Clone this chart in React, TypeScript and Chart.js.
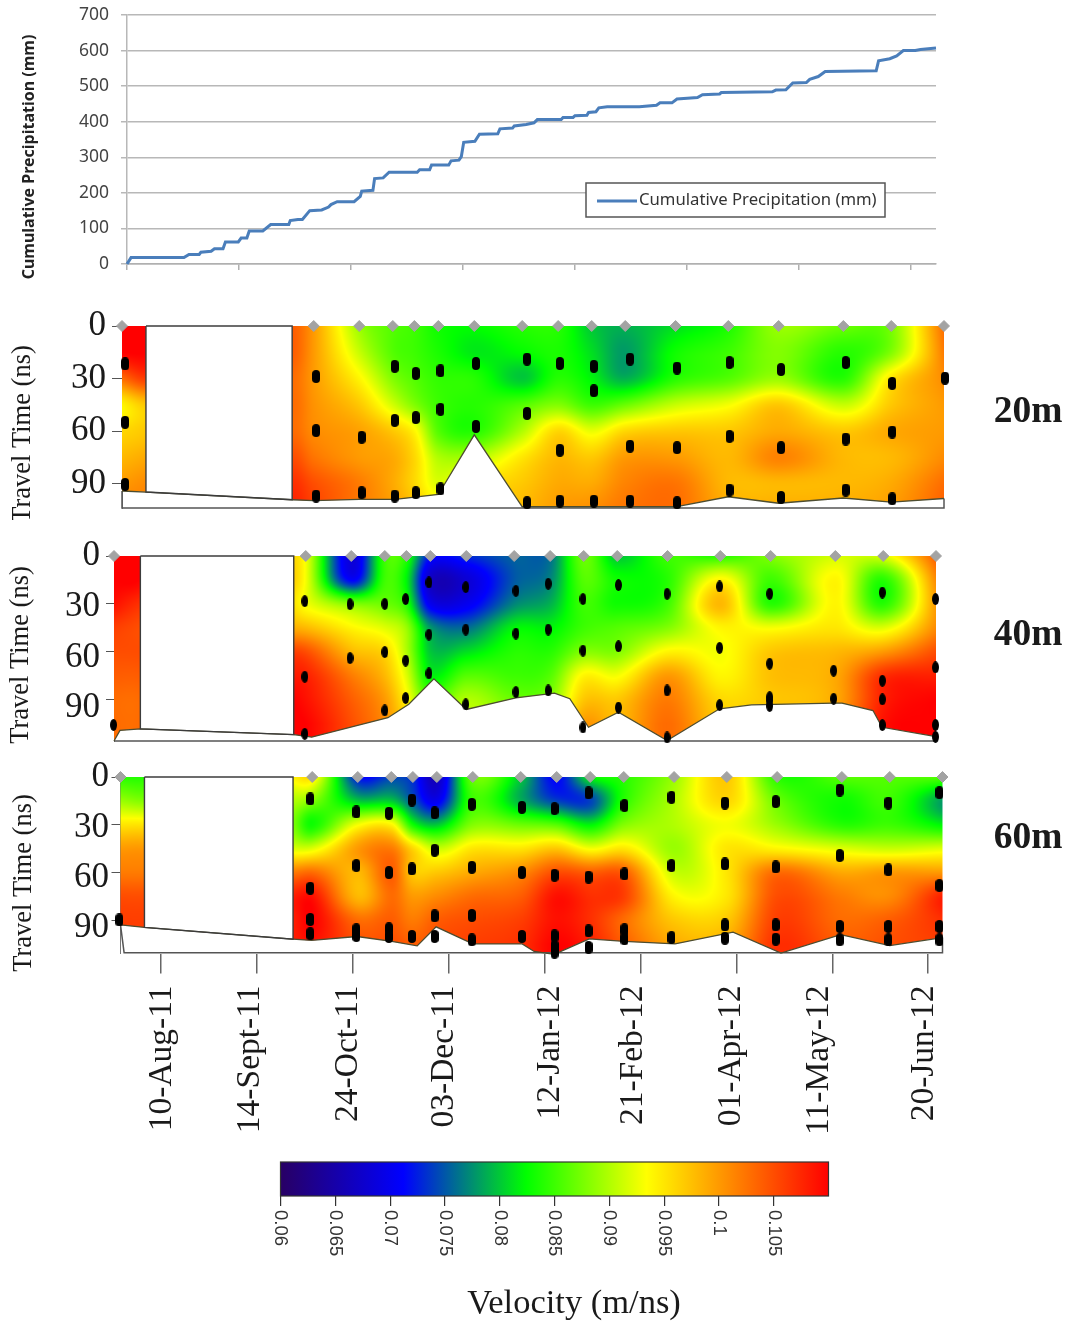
import React, { useEffect, useRef } from "react";
import { Chart, registerables } from "chart.js";

Chart.register(...registerables);

// ---------- data ----------
const precipDays = [0, 1.7, 23.9, 26, 30.3, 31, 35.3, 36.7, 40.3, 41.3, 46.7, 47.9, 50.3, 51.3, 57, 60.3, 67.9, 68.5, 71.7, 73.6, 76.7, 81.7, 84.6, 85.6, 88.2, 95.3, 97.9, 98.5, 103.2, 103.9, 107.5, 110, 121.8, 122.8, 127, 127.8, 135, 136, 139.3, 140.3, 141.3, 146, 147.9, 155.6, 156.5, 161.8, 162.5, 167.5, 170.8, 172.2, 182.2, 183, 187.2, 188, 193, 193.7, 196.8, 198, 201.5, 215, 222.2, 223.7, 228.7, 230.8, 235.1, 239.4, 241.5, 248.7, 249.4, 270.8, 272.3, 276.5, 279.4, 285.1, 286.5, 290.1, 293, 314.4, 315.4, 320.1, 323, 325.8, 330.8, 333, 339.5];
const precipMm = [0, 18, 18, 27, 27, 33, 36, 43, 43, 62, 62, 73, 73, 93, 93, 111, 111, 122, 125, 125, 150, 152, 160, 167, 175, 175, 190, 205, 207, 240, 242, 258, 258, 265, 265, 278, 278, 290, 292, 302, 342, 345, 365, 366, 380, 382, 388, 392, 397, 406, 406, 412, 412, 417, 418, 426, 428, 439, 442, 442, 446, 453, 453, 464, 466, 468, 476, 478, 482, 484, 489, 490, 509, 510, 519, 527, 541, 543, 571, 577, 585, 600, 600, 603, 607];

const dateLabels = ["10-Aug-11", "14-Sept-11", "24-Oct-11", "03-Dec-11", "12-Jan-12", "21-Feb-12", "01-Apr-12", "11-May-12", "20-Jun-12"];
const dateLabelDays = [0.5, 37, 78, 118, 162.5, 197, 238, 274.5, 318.5];
const surveyDays = [-17, 63, 82, 96, 105, 115, 130, 150, 165, 179, 193, 214, 236, 257, 284, 304, 326];

const gridDays = [-17, -7, 54, 63, 82, 96, 105, 115, 130, 150, 165, 179, 193, 214, 236, 257, 284, 304, 326];
const gridDepths = [0, 15, 30, 45, 60, 75, 90, 105];

// velocity x 1000 (m/ns); one row per depth, one column per grid day
const velocity20m = [
  [110, 110, 104, 100, 89, 86, 85, 83, 82.5, 84, 84, 80, 79, 81, 83.5, 89, 87, 87.5, 103],
  [110, 110, 104, 100, 91, 86, 85, 83.5, 81.5, 82.5, 83.5, 81, 78, 83, 85, 88, 84, 88, 102],
  [103, 106, 103, 100, 94, 88, 86, 84.5, 84, 80, 84, 82, 79, 84, 86, 89, 84, 95, 101],
  [94, 97, 103, 100.5, 97, 91.5, 88, 85, 84, 86, 88, 85, 87, 91, 93, 97, 91, 97, 100],
  [96, 97, 103, 101, 99.5, 97, 94, 86, 84, 90, 96, 92.5, 96, 97, 97, 99, 97, 99, 100],
  [98, 99, 105, 102.5, 100, 99, 96, 90, 90, 95, 98, 97, 100, 100, 98, 101.5, 98, 98, 101],
  [100, 101, 107, 105, 102, 99, 96, 92, 95, 97, 99, 99, 101.5, 102.5, 98, 98, 98, 99, 103],
  [102, 102, 108, 106, 102, 100, 98, 95, 96, 98, 100, 101, 102.5, 103, 99, 99, 99, 100, 104],
];
const velocity40m = [
  [110, 110, 97, 93, 68, 85, 84, 72, 73, 75.5, 76, 87, 80, 85, 84, 88, 91.5, 92, 104],
  [110, 110, 98, 93, 71, 85, 82, 67, 68, 75, 77, 86, 83, 84, 94, 85, 94, 84, 101],
  [109, 107, 97, 93, 88, 87, 84, 70, 70, 77, 79, 85, 83, 85, 98, 84, 94, 84, 100],
  [106, 105, 99, 98, 94, 92, 89, 78, 76, 82, 82, 85, 86, 88, 94, 93, 95, 92, 101],
  [105, 105, 106, 105, 98, 96, 90, 80, 81, 84, 84, 88, 88, 94, 93, 97, 98, 100, 105],
  [104, 104, 108, 108, 102, 98, 92, 82, 86, 85, 86, 94, 93, 100, 94, 97.5, 99, 107, 108],
  [103, 103, 110, 109, 104, 100, 94, 86, 90, 87, 88, 97, 97, 102, 96, 97, 99, 108, 110],
  [103, 103, 110, 110, 105, 101, 96, 90, 91, 89, 90, 100, 98, 103, 97, 98, 100, 109, 110],
];
const velocity60m = [
  [84, 84, 94, 95, 72, 74, 73, 66, 87, 80, 71, 82, 84, 89, 97, 84, 86, 86, 86],
  [89, 88, 90, 88, 80, 80, 75, 70, 85, 79, 74, 74, 84, 90, 96, 87, 83, 85, 78],
  [95, 95, 88, 83, 93, 94, 83, 80, 88, 87, 86, 82, 88, 90, 93, 89, 84, 85, 82],
  [100, 100, 92, 92, 100, 102, 96, 91, 95, 95, 97, 93, 95, 89, 95, 94, 92, 91, 92],
  [102, 102, 102, 103, 98, 104, 97, 97, 99, 101, 105, 104, 104, 91, 95, 103, 99, 100, 100],
  [105, 105, 108, 109, 98, 103, 100, 101, 103, 104, 109, 107, 106, 94, 95, 105, 102, 101, 108],
  [106, 106, 108, 110, 103, 104, 102, 104, 105, 106, 109, 107, 103, 97, 97, 106, 103, 104, 107],
  [106, 106, 108, 109, 105, 105, 104, 105, 106, 107, 110, 108, 104, 99, 99, 107, 104, 105, 106],
];

// bedrock (lower limit of the imaged section): [day, ns]
const bedrock20m = [[-17, 94], [-7, 94.6], [54, 99], [63, 99.5], [82, 98.8], [97, 98.8], [115, 96], [130, 62], [150, 103], [214, 103], [236, 97.3], [257, 101], [284, 98], [304, 100.4], [326, 98.3]];
const bedrock40m = [[-17, 116], [-14.5, 109.4], [-6, 108.4], [58, 112], [65.5, 113.6], [97.3, 101.4], [106, 93], [116.5, 77], [130, 96.2], [150.7, 89], [166.8, 86], [173.2, 89.5], [181, 107.4], [193.5, 98], [213.8, 115.7], [235.7, 95.8], [249, 93.3], [283.3, 92.3], [286.8, 92.3], [299.7, 96.9], [303.5, 107.4], [326, 113.2]];
const bedrock60m = [[-17, 93], [-7, 94.6], [55, 102], [62.7, 102.8], [81.7, 100.3], [96.2, 103.4], [106.8, 106.2], [114.7, 94.2], [130, 105], [150.6, 105], [155.6, 109.7], [164, 111.5], [178.6, 101.8], [193.2, 103.4], [214.4, 105], [238.6, 97.6], [258.6, 110.7], [283.5, 99.2], [304, 106], [326, 101]];

const gap20m = [[-7, 0], [54, 0], [54, 99], [-7, 94.6], [-7, 0]];
const gap40m = [[-6, 0], [58, 0], [58, 112], [-6, 108.4], [-6, 0]];
const gap60m = [[-7, 0], [55, 0], [55, 102], [-7, 94.6], [-7, 0]];

const base20m = [[-17, 94], [-17, 103.7], [326, 103.7], [326, 98.3]];
const base40m = [[-17, 116], [326, 116], [326, 113.2]];
const base60m = [[-17, 93], [-15.5, 110.5], [326, 110.5], [326, 101]];

// pick positions: first value = day, the others = travel time in ns
const picks20m = [
  [-15.7, 21.6, 54.9, 90.3], [64, 28.8, 59.6, 96.9], [83, 63.4, 95], [96.8, 23, 53.8, 96.9], [105.6, 27, 52.2, 95],
  [115.9, 25.5, 47.5, 92.8], [130.7, 21.4, 57.2], [152, 18.9, 49.8, 100.7], [165.7, 21.4, 70.8, 99.8], [179.9, 23, 36.9, 99.8],
  [195, 18.9, 68.5, 99.8], [214.6, 24, 69.3, 100.7], [236.5, 20.8, 62.9, 93.5], [258, 24.8, 69.3, 97.7], [285, 20.8, 64.4, 93.5],
  [304.4, 32.7, 60.4, 98.5], [326.4, 29.7, 63.4, 95.2],
];
const picks40m = [
  [-17.2, 25.6, 65.8, 105.9], [62.6, 28.3, 75.7, 111.5], [81.5, 30.2, 64], [96, 30, 60.2, 96.8], [104.7, 27, 65.6, 89],
  [114.4, 16.6, 49.3, 73.6], [129.8, 19.5, 46.1, 93], [150.7, 21.8, 48.6, 85.3], [164.2, 17.4, 46.1, 84.3], [178.7, 27, 59.3, 107.5],
  [193.5, 18.2, 56.6, 95], [213.8, 23.7, 84.3, 113.8], [235.7, 19.1, 57.6, 93.5], [256.6, 23.7, 67.5, 88.5, 90.5, 94], [283.3, 71.9, 89.5],
  [303.6, 22.9, 78.2, 89.9, 106], [325.8, 27, 69.8, 105.9, 113.4],
];
const picks60m = [
  [-17.5, 17.6, 77.9, 89.9], [62.2, 13.8, 70, 89.6, 98.6], [81.4, 22, 55.7, 96.1, 99.7], [95, 22.8, 60.1, 95.5, 100.3], [104.6, 14.5, 57.8, 100.3],
  [114.1, 22.6, 46.1, 87.3, 100.3], [129.6, 17.2, 56.8, 87.1, 102.4], [150.5, 19.1, 60.1, 100.3], [164.1, 19.9, 61.8, 99.9, 106.6, 110.2], [178.3, 10, 63, 96.8, 107.2],
  [193.3, 18, 61, 96.1, 101.8], [212.9, 12.8, 55.7, 101], [235.2, 16.4, 54.7, 93, 101.4], [256.4, 15.5, 56.6, 93, 102], [283.1, 8.2, 49.4, 94, 102.4],
  [303.4, 16.4, 58.4, 94, 102.4], [324.7, 9.9, 68.3, 94, 102.4],
];

const colourValues = [60, 71.2, 82.4, 93.4, 110];
const colourRgb = [[40, 0, 100], [0, 0, 255], [0, 255, 0], [255, 255, 0], [255, 0, 0]];

// ---------- helpers ----------
const SERIF = "'Liberation Serif', serif";
const SANS = "'Noto Sans', sans-serif";

function hermite(xs: number[], ys: number[], x: number): number {
  const n = xs.length;
  if (x <= xs[0]) return ys[0];
  if (x >= xs[n - 1]) return ys[n - 1];
  let i = 0;
  while (i < n - 2 && x > xs[i + 1]) i++;
  const h = xs[i + 1] - xs[i];
  const t = (x - xs[i]) / h;
  const m0 = i > 0 ? (ys[i + 1] - ys[i - 1]) / (xs[i + 1] - xs[i - 1]) : (ys[i + 1] - ys[i]) / h;
  const m1 = i < n - 2 ? (ys[i + 2] - ys[i]) / (xs[i + 2] - xs[i]) : (ys[i + 1] - ys[i]) / h;
  const t2 = t * t, t3 = t2 * t;
  const r = (2 * t3 - 3 * t2 + 1) * ys[i] + (t3 - 2 * t2 + t) * h * m0 + (-2 * t3 + 3 * t2) * ys[i + 1] + (t3 - t2) * h * m1;
  const lo = Math.min(ys[i], ys[i + 1]) - 1.5, hi = Math.max(ys[i], ys[i + 1]) + 1.5;
  return Math.max(lo, Math.min(hi, r));
}

function rgbFor(v: number): number[] {
  if (v <= colourValues[0]) return colourRgb[0];
  for (let i = 0; i < colourValues.length - 1; i++) {
    if (v <= colourValues[i + 1]) {
      const t = (v - colourValues[i]) / (colourValues[i + 1] - colourValues[i]);
      return colourRgb[i].map((c, k) => c + (colourRgb[i + 1][k] - c) * t);
    }
  }
  return colourRgb[colourRgb.length - 1];
}

function capsule(w: number, h: number): HTMLCanvasElement {
  const c = document.createElement("canvas");
  c.width = w; c.height = h;
  const g = c.getContext("2d")!;
  g.fillStyle = "#000";
  g.beginPath();
  g.roundRect(0, 0, w, h, w / 2);
  g.fill();
  return c;
}

function ellipseMark(w: number, h: number): HTMLCanvasElement {
  const c = document.createElement("canvas");
  c.width = w; c.height = h;
  const g = c.getContext("2d")!;
  g.fillStyle = "#000";
  g.beginPath();
  g.ellipse(w / 2, h / 2, w / 2, h / 2, 0, 0, Math.PI * 2);
  g.fill();
  return c;
}

type Note = { text: string; x: number; y: number; font: string; color?: string; rot?: number; align?: CanvasTextAlign };

function notesPlugin(notes: Note[], top: number) {
  return {
    id: "notes",
    afterDraw(chart: any) {
      const { ctx } = chart;
      for (const n of notes) {
        ctx.save();
        ctx.translate(n.x, n.y - top);
        ctx.rotate(n.rot || 0);
        ctx.font = n.font;
        ctx.fillStyle = n.color || "#1a1a1a";
        ctx.textAlign = n.align || "center";
        ctx.textBaseline = "middle";
        ctx.fillText(n.text, 0, 0);
        ctx.restore();
      }
    },
  };
}

function fieldPlugin(grid: number[][], bedrock: number[][], gap: number[][]) {
  return {
    id: "field",
    beforeDatasetsDraw(chart: any) {
      const { ctx, chartArea, scales } = chart;
      const { x, y } = scales;
      const left = Math.floor(chartArea.left), top = Math.floor(chartArea.top);
      const w = Math.ceil(chartArea.right) - left + 1, h = Math.ceil(chartArea.bottom) - top + 1;
      const off = document.createElement("canvas");
      off.width = w; off.height = h;
      const g = off.getContext("2d")!;
      const img = g.createImageData(w, h);
      for (let i = 0; i < w; i++) {
        const day = x.getValueForPixel(left + i + 0.5);
        const col = gridDepths.map((_, r) => hermite(gridDays, grid[r], day));
        for (let j = 0; j < h; j++) {
          const ns = y.getValueForPixel(top + j + 0.5);
          const c = rgbFor(hermite(gridDepths, col, ns));
          const o = (j * w + i) * 4;
          img.data[o] = c[0]; img.data[o + 1] = c[1]; img.data[o + 2] = c[2]; img.data[o + 3] = 255;
        }
      }
      g.putImageData(img, 0, 0);
      ctx.save();
      ctx.beginPath();
      ctx.moveTo(x.getPixelForValue(x.min), y.getPixelForValue(0));
      ctx.lineTo(x.getPixelForValue(x.max), y.getPixelForValue(0));
      for (let k = bedrock.length - 1; k >= 0; k--) ctx.lineTo(x.getPixelForValue(bedrock[k][0]), y.getPixelForValue(bedrock[k][1]));
      ctx.closePath();
      ctx.clip();
      ctx.drawImage(off, left, top);
      ctx.restore();
      ctx.save();
      ctx.fillStyle = "#fff";
      ctx.beginPath();
      gap.forEach((p, k) => {
        const px = x.getPixelForValue(p[0]), py = y.getPixelForValue(p[1]);
        if (k) ctx.lineTo(px, py); else ctx.moveTo(px, py);
      });
      ctx.closePath();
      ctx.fill();
      ctx.restore();
    },
  };
}

type PanelCfg = {
  top: number; height: number; plotTop: number; plotBottom: number; left: number; right: number; nsMax: number; labelMax: number;
  grid: number[][]; bedrock: number[][]; gap: number[][]; base: number[][]; picks: number[][];
  mark: HTMLCanvasElement; tickLength: number; tickPad: number; fontSize: number; showDates: boolean; notes: Note[];
};

const asPoints = (list: number[][]) => list.map((p) => ({ x: p[0], y: p[1] }));

const noScalePadding = (s: any) => { s.paddingTop = 0; s.paddingBottom = 0; s.paddingLeft = 0; s.paddingRight = 0; };

function makePanel(canvas: HTMLCanvasElement, p: PanelCfg): Chart {
  const pickPoints = p.picks.flatMap((r) => r.slice(1).map((ns) => ({ x: r[0], y: ns })));
  const plotH = p.plotBottom - p.top;
  const axisBelow = p.height - plotH;
  const tickBand = 20;
  const dateAxis = p.showDates ? {
    x2: {
      type: "linear", min: -17, max: 326, position: "bottom", weight: 2,
      border: { display: false },
      grid: { display: false, drawTicks: false },
      ticks: {
        autoSkip: false, minRotation: 90, maxRotation: 90, padding: 12,
        color: "#1a1a1a", font: { family: SERIF, size: 33.5 },
        callback: (_v: any, i: number) => dateLabels[i] ?? "",
      },
      afterBuildTicks: (s: any) => { s.ticks = dateLabelDays.map((value) => ({ value })); },
      afterFit: (s: any) => { noScalePadding(s); s.height = axisBelow - tickBand; },
    },
  } : {};
  return new Chart(canvas, {
    type: "scatter",
    data: {
      datasets: [
        { label: "Picks", data: pickPoints, pointStyle: p.mark as any, pointRadius: 5, clip: false as any, order: 0 },
        { label: "Surveys", data: surveyDays.map((d) => ({ x: d, y: 0 })), pointStyle: "rectRot", pointRadius: 5.5, backgroundColor: "#a3a3a3", borderColor: "#a3a3a3", clip: false as any, order: 1 },
        { label: "No data", data: asPoints(p.gap), showLine: true, pointRadius: 0, borderColor: "#3c3c3c", borderWidth: 1.4, clip: false as any, order: 2 },
        { label: "Bedrock", data: asPoints(p.bedrock), showLine: true, pointRadius: 0, borderColor: "#4d4d30", borderWidth: 1.3, clip: false as any, order: 3 },
        { label: "Base", data: asPoints(p.base), showLine: true, pointRadius: 0, borderColor: "#555", borderWidth: 1.5, clip: false as any, order: 4 },
      ],
    },
    options: {
      responsive: false,
      animation: false,
      events: [],
      layout: { padding: { top: p.plotTop - p.top, left: 0, right: 1068 - p.right, bottom: p.showDates ? 0 : axisBelow } },
      plugins: { legend: { display: false }, tooltip: { enabled: false } },
      scales: {
        x: {
          type: "linear", min: -17, max: 326, display: p.showDates, weight: 1,
          border: { display: false },
          grid: { drawOnChartArea: false, drawTicks: true, tickLength: tickBand, color: "#666", lineWidth: 1.5 },
          ticks: { display: false, stepSize: 40, includeBounds: false },
          afterFit: (s: any) => { noScalePadding(s); if (p.showDates) s.height = tickBand; },
        },
        ...dateAxis,
        y: {
          type: "linear", reverse: true, min: 0, max: p.nsMax, position: "left", weight: 1,
          border: { display: true, color: "#777", width: 1 },
          grid: { drawOnChartArea: false, drawTicks: true, tickLength: p.tickLength, color: "#555" },
          ticks: { display: false, stepSize: 30, includeBounds: false },
          afterFit: (s: any) => { noScalePadding(s); s.width = p.tickLength; },
        },
        y2: {
          type: "linear", reverse: true, min: 0, max: p.labelMax, position: "left", weight: 2,
          border: { display: false },
          grid: { display: false, drawTicks: false },
          ticks: { stepSize: 30, includeBounds: false, padding: p.tickPad, color: "#1a1a1a", font: { family: SERIF, size: p.fontSize } },
          afterFit: (s: any) => { noScalePadding(s); s.width = p.left - p.tickLength; },
        },
      },
    } as any,
    plugins: [fieldPlugin(p.grid, p.bedrock, p.gap), notesPlugin(p.notes, p.top)],
  });
}

function makePrecip(canvas: HTMLCanvasElement): Chart {
  const legendPlugin = {
    id: "boxLegend",
    afterDraw(chart: any) {
      const { ctx } = chart;
      ctx.save();
      ctx.fillStyle = "#fff";
      ctx.strokeStyle = "#555";
      ctx.lineWidth = 1.5;
      ctx.fillRect(586, 183, 299, 34);
      ctx.strokeRect(586, 183, 299, 34);
      ctx.strokeStyle = "#4a7ebb";
      ctx.lineWidth = 3;
      ctx.beginPath();
      ctx.moveTo(597, 201);
      ctx.lineTo(637, 201);
      ctx.stroke();
      ctx.fillStyle = "#333";
      ctx.font = `16.7px ${SANS}`;
      ctx.textBaseline = "middle";
      ctx.fillText(chart.data.datasets[0].label, 639, 200.5);
      ctx.restore();
    },
  };
  return new Chart(canvas, {
    type: "line",
    data: {
      datasets: [{
        label: "Cumulative Precipitation (mm)",
        data: precipDays.map((d, i) => ({ x: d, y: precipMm[i] })),
        borderColor: "#4a7ebb", borderWidth: 3, pointRadius: 0, clip: false as any, tension: 0,
      }],
    },
    options: {
      responsive: false,
      animation: false,
      events: [],
      layout: { padding: { top: 15, left: 0, right: 1068 - 936, bottom: 0 } },
      plugins: { legend: { display: false }, tooltip: { enabled: false } },
      scales: {
        x: {
          type: "linear", min: 0, max: 339.5,
          border: { color: "#b0b0b0", width: 1.5 },
          grid: { drawOnChartArea: false, drawTicks: true, tickLength: 6, color: "#b0b0b0", lineWidth: 1.5 },
          ticks: { display: false, stepSize: 47, includeBounds: false },
          afterFit: (s: any) => { noScalePadding(s); s.height = 290 - 264; },
        },
        y: {
          type: "linear", min: 0, max: 700,
          border: { color: "#b8b8b8", width: 1.5 },
          grid: { color: "#b8b8b8", lineWidth: 1.5, tickLength: 6 },
          ticks: { stepSize: 100, padding: 12, color: "#444", font: { family: SANS, size: 17.5 } },
          afterFit: (s: any) => { noScalePadding(s); s.width = 127; },
        },
      },
    } as any,
    plugins: [
      legendPlugin,
      notesPlugin([{ text: "Cumulative Precipitation (mm)", x: 29, y: 157, font: `bold 16px ${SANS}`, rot: -Math.PI / 2, color: "#222" }], 0),
    ],
  });
}

function makeColourBar(canvas: HTMLCanvasElement): Chart {
  const barTop = 1140;
  const barPlugin = {
    id: "colourBar",
    beforeDatasetsDraw(chart: any) {
      const { ctx, chartArea, scales } = chart;
      const grad = ctx.createLinearGradient(chartArea.left, 0, chartArea.right, 0);
      const x0 = scales.x.getPixelForValue(colourValues[0] / 1000);
      const x1 = scales.x.getPixelForValue(colourValues[colourValues.length - 1] / 1000);
      colourValues.forEach((v, i) => {
        const c = colourRgb[i];
        grad.addColorStop((scales.x.getPixelForValue(v / 1000) - x0) / (x1 - x0), `rgb(${c[0]},${c[1]},${c[2]})`);
      });
      ctx.save();
      ctx.fillStyle = grad;
      ctx.fillRect(chartArea.left, chartArea.top, chartArea.width, chartArea.height);
      ctx.strokeStyle = "#333";
      ctx.lineWidth = 1.2;
      ctx.strokeRect(chartArea.left, chartArea.top, chartArea.width, chartArea.height);
      ctx.restore();
    },
    afterDraw(chart: any) {
      const { ctx, scales, chartArea } = chart;
      ctx.save();
      ctx.font = `18.5px 'Liberation Sans', sans-serif`;
      ctx.fillStyle = "#333";
      ctx.textAlign = "left";
      ctx.textBaseline = "middle";
      scales.x.ticks.forEach((t: any) => {
        ctx.save();
        ctx.translate(scales.x.getPixelForValue(t.value), chartArea.bottom + 14);
        ctx.rotate(Math.PI / 2);
        ctx.fillText(String(Number(t.value.toFixed(3))), 0, 0);
        ctx.restore();
      });
      ctx.restore();
    },
  };
  return new Chart(canvas, {
    type: "scatter",
    data: { datasets: [{ label: "Velocity (m/ns)", data: colourValues.map((v) => ({ x: v / 1000, y: 0.5 })), pointRadius: 0 }] },
    options: {
      responsive: false,
      animation: false,
      events: [],
      layout: { padding: { top: 1162 - barTop, left: 280.5, right: 1068 - 828.5, bottom: 0 } },
      plugins: { legend: { display: false }, tooltip: { enabled: false } },
      scales: {
        x: {
          type: "linear", min: 0.06, max: 0.11,
          border: { display: false },
          grid: { drawOnChartArea: false, drawTicks: true, tickLength: 10, color: "#333", lineWidth: 1.2 },
          ticks: { display: false, stepSize: 0.005, includeBounds: false },
          afterBuildTicks: (s: any) => { s.ticks = s.ticks.filter((t: any) => t.value < 0.108); },
          afterFit: (s: any) => { s.height = 185 - 56; },
        },
        y: { type: "linear", display: false, min: 0, max: 1 },
      },
    } as any,
    plugins: [barPlugin, notesPlugin([{ text: "Velocity (m/ns)", x: 574, y: 1304, font: `34.5px ${SERIF}` }], barTop)],
  });
}

const rot = -Math.PI / 2;
const yTitle = "Travel Time (ns)";

export default function App() {
  const refs = [useRef<HTMLCanvasElement>(null), useRef<HTMLCanvasElement>(null), useRef<HTMLCanvasElement>(null), useRef<HTMLCanvasElement>(null), useRef<HTMLCanvasElement>(null)];
  useEffect(() => {
    const charts = [
      makePrecip(refs[0].current!),
      makePanel(refs[1].current!, {
        top: 300, height: 220, plotTop: 326, plotBottom: 508, left: 122, right: 944, nsMax: 103.7, labelMax: 103.7,
        grid: velocity20m, bedrock: bedrock20m, gap: gap20m, base: base20m, picks: picks20m,
        mark: capsule(8, 13), tickLength: 10, tickPad: 6, fontSize: 35, showDates: false,
        notes: [
          { text: yTitle, x: 23, y: 434, font: `26.5px ${SERIF}`, rot },
          { text: "20m", x: 1028, y: 412, font: `bold 37.5px ${SERIF}` },
        ],
      }),
      makePanel(refs[2].current!, {
        top: 535, height: 220, plotTop: 556, plotBottom: 741, left: 114, right: 936, nsMax: 116, labelMax: 109.5,
        grid: velocity40m, bedrock: bedrock40m, gap: gap40m, base: base40m, picks: picks40m,
        mark: ellipseMark(7, 12), tickLength: 8, tickPad: 6, fontSize: 35, showDates: false,
        notes: [
          { text: yTitle, x: 21, y: 655, font: `26.5px ${SERIF}`, rot },
          { text: "40m", x: 1028, y: 635, font: `bold 37.5px ${SERIF}` },
        ],
      }),
      makePanel(refs[3].current!, {
        top: 755, height: 385, plotTop: 777, plotBottom: 953.5, left: 120.5, right: 942.5, nsMax: 111, labelMax: 105.2,
        grid: velocity60m, bedrock: bedrock60m, gap: gap60m, base: base60m, picks: picks60m,
        mark: capsule(8, 13), tickLength: 9, tickPad: 2.5, fontSize: 35, showDates: true,
        notes: [
          { text: yTitle, x: 24, y: 883, font: `26.5px ${SERIF}`, rot },
          { text: "60m", x: 1028, y: 838, font: `bold 37.5px ${SERIF}` },
        ],
      }),
      makeColourBar(refs[4].current!),
    ];
    return () => charts.forEach((c) => c.destroy());
  }, []);
  const place = (top: number, height: number) => ({ position: "absolute" as const, left: 0, top, width: 1068, height });
  return (
    <div style={{ position: "absolute", left: 0, top: 0, width: 1068, height: 1325, overflow: "hidden", background: "#fff" }}>
      <canvas ref={refs[0]} width={1068} height={290} style={place(0, 290)} />
      <canvas ref={refs[1]} width={1068} height={220} style={place(300, 220)} />
      <canvas ref={refs[2]} width={1068} height={220} style={place(535, 220)} />
      <canvas ref={refs[3]} width={1068} height={385} style={place(755, 385)} />
      <canvas ref={refs[4]} width={1068} height={185} style={place(1140, 185)} />
    </div>
  );
}
